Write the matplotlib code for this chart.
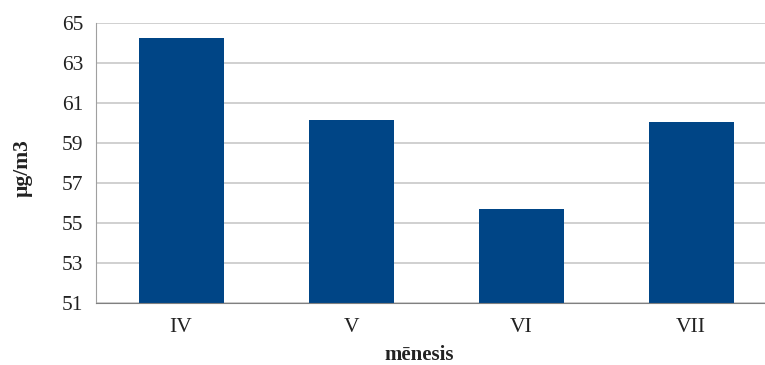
import matplotlib.pyplot as plt

months = ['IV', 'V', 'VI', 'VII']
values = [64.25, 60.14, 55.68, 60.04]
y_ticks = [51, 53, 55, 57, 59, 61, 63, 65]

plt.rcParams['font.family'] = ['Liberation Serif', 'DejaVu Serif']

W, H = 765, 365
fig = plt.figure(figsize=(W / 100, H / 100), dpi=100)
# plot area runs past the right edge of the picture, as in the original
ax = fig.add_axes([96 / W, (H - 302.5) / H, 680 / W, 279.5 / H])

ax.bar(range(len(months)), values, width=0.5, color='#004586', zorder=3)

ax.set_xlim(-0.5, len(months) - 0.5)
ax.set_ylim(51, 65)
ax.set_yticks(y_ticks)
ax.set_xticks(range(len(months)))
ax.set_xticklabels(months)
ax.tick_params(axis='both', length=0, labelsize=15.5, colors='#222222')
ax.tick_params(axis='y', pad=9)
ax.tick_params(axis='x', pad=11)

ax.grid(axis='y', color='#c8c8c8', linewidth=1.2, zorder=0)
for side in ['top', 'right']:
    ax.spines[side].set_visible(False)
ax.spines['left'].set_color('#a0a0a0')
ax.spines['bottom'].set_color('#808080')
ax.spines['bottom'].set_zorder(4)

fig.text(23 / W, 1 - 168 / H, 'µg/m3', rotation=90, fontsize=15.5, fontweight='bold',
         ha='center', va='center', color='#222222')
fig.text(419 / W, 1 - 355 / H, 'mēnesis', fontsize=15, fontweight='bold',
         ha='center', va='center', color='#222222')

fig.savefig('out.png', dpi=100)
